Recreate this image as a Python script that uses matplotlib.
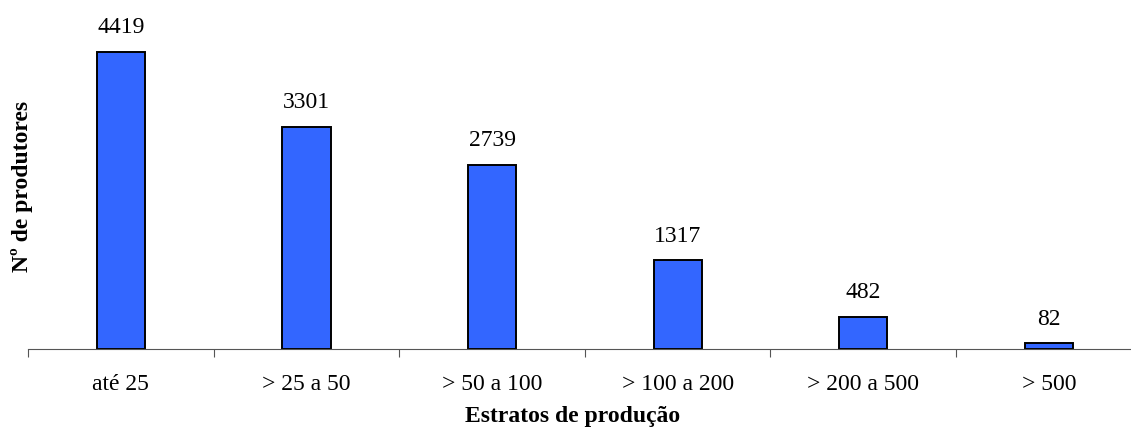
import matplotlib

matplotlib.use("Agg")
import matplotlib.pyplot as plt

categories = ["até 25", "> 25 a 50", "> 50 a 100", "> 100 a 200", "> 200 a 500", "> 500"]
produtores = [4419, 3301, 2739, 1317, 482, 82]

plt.rcParams["font.family"] = ["Liberation Serif", "DejaVu Serif"]

fig = plt.figure(figsize=(11.31, 4.28), dpi=100)
ax = fig.add_axes([0.0248, 0.1846, 0.9846, 0.785])

x = list(range(len(categories)))
bars = ax.bar(x, produtores, width=0.26, color="#3366FF", edgecolor="black", linewidth=1.4)

for xi, v in zip(x, produtores):
    ax.annotate(str(v), (xi, v), xytext=(0, 10), textcoords="offset points",
                ha="center", va="bottom", fontsize=17)

ax.set_xlim(-0.5, len(categories) - 0.5)
ax.set_ylim(0, 5000)

# boundary ticks below the axis, labels centred under each bar
ax.set_xticks([i - 0.5 for i in range(len(categories) + 1)])
ax.set_xticklabels([])
ax.set_xticks(x, minor=True)
ax.set_xticklabels(categories, minor=True, fontsize=17)
ax.tick_params(axis="x", which="major", direction="out", length=6, color="#555555")
ax.tick_params(axis="x", which="minor", length=0, pad=18)

ax.set_yticks([])
for side in ("left", "right", "top"):
    ax.spines[side].set_visible(False)
ax.spines["bottom"].set_color("#555555")

ax.set_xlabel("Estratos de produção", fontsize=17, fontweight="bold")
ax.xaxis.set_label_coords(0.489, -0.171)
ax.set_ylabel("Nº de produtores", fontsize=17, fontweight="bold")
ax.yaxis.set_label_coords(0.004, 0.485)

fig.savefig("out.png", dpi=100)
plt.close(fig)
